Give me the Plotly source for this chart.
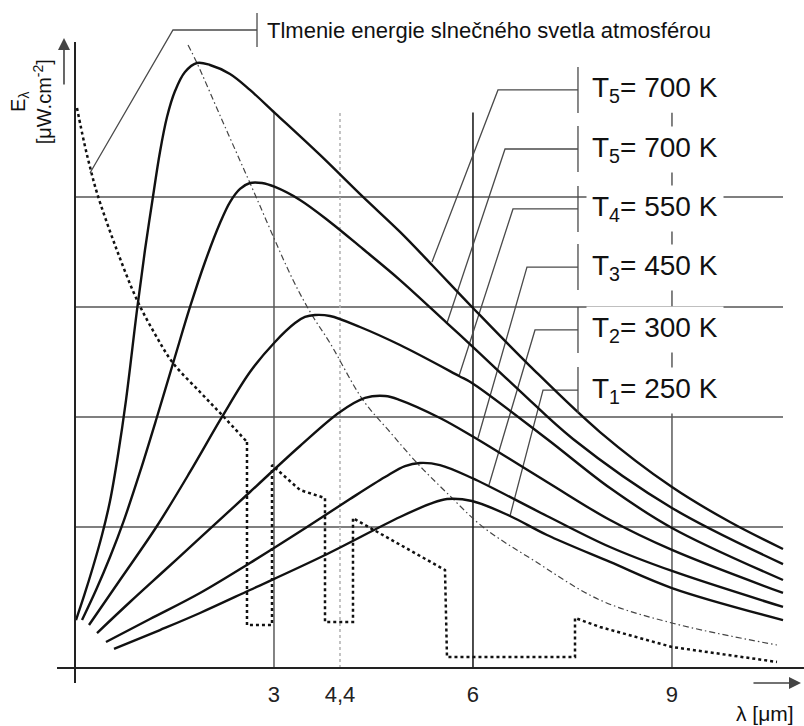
import plotly.graph_objects as go

FONT = "Liberation Sans, Arial, sans-serif"

# ---- data: wavelength λ (μm) and spectral emittance E (arbitrary units) ----
lam_T5a = [0.015, 0.136, 0.271, 0.407, 0.528, 0.648, 0.769, 0.935, 1.055, 1.161, 1.281, 1.387, 1.508,
           1.658, 1.839, 2.035, 2.337, 2.638, 3.015, 3.694, 4.342, 4.900, 5.382, 5.985, 6.860, 7.915,
           9.000, 9.875, 10.674]
E_T5a = [4.36, 6.55, 9.18, 12.09, 15.18, 19.36, 24.36, 32.55, 38.0, 42.27, 46.91, 50.09, 52.45,
         54.18, 55.0, 54.82, 54.0, 52.55, 50.45, 46.64, 42.82, 39.64, 36.64, 32.82, 27.45, 21.45,
         16.45, 13.27, 10.82]

lam_T5b = [0.106, 0.317, 0.528, 0.739, 0.980, 1.236, 1.493, 1.734, 1.960, 2.186, 2.337, 2.488, 2.638,
           2.819, 3.015, 3.392, 3.844, 4.342, 4.900, 5.608, 5.985, 6.709, 7.508, 9.000, 10.674]
E_T5b = [4.36, 7.09, 10.09, 13.45, 17.82, 22.82, 28.0, 32.82, 36.91, 40.45, 42.36, 43.55, 44.09,
         44.09, 43.73, 42.55, 40.55, 38.09, 35.27, 31.36, 29.27, 25.18, 20.82, 14.55, 9.45]

lam_T4 = [0.211, 0.678, 1.236, 1.734, 2.216, 2.638, 3.015, 3.317, 3.467, 3.618, 3.844, 4.297, 4.900,
          5.789, 5.985, 7.116, 8.066, 9.000, 10.674]
E_T4 = [3.91, 8.0, 12.91, 17.82, 22.82, 26.91, 29.64, 31.36, 31.91, 32.09, 32.0, 31.0, 29.36,
        26.55, 25.91, 20.82, 16.36, 12.73, 8.0]

lam_T3 = [0.332, 0.829, 1.357, 1.885, 2.638, 3.392, 3.995, 4.372, 4.674, 4.900, 5.503, 5.985, 7.116,
          8.066, 9.000, 10.674]
E_T3 = [3.18, 6.0, 8.91, 11.82, 16.0, 20.18, 23.27, 24.55, 24.73, 24.36, 22.73, 21.09, 16.91,
        13.45, 10.73, 6.82]

lam_T2 = [0.467, 1.131, 1.885, 2.638, 3.498, 4.146, 4.674, 4.975, 5.201, 5.503, 5.985, 7.116, 8.066,
          9.000, 10.674]
E_T2 = [2.36, 4.45, 6.82, 9.55, 12.82, 15.36, 17.36, 18.36, 18.64, 18.45, 17.27, 13.82, 11.0,
        8.82, 5.55]

lam_T1 = [0.588, 1.281, 1.885, 2.638, 3.739, 4.900, 5.352, 5.608, 5.985, 6.558, 7.116, 8.066, 9.000, 10.674]
E_T1 = [1.73, 3.45, 5.0, 7.09, 10.18, 13.73, 14.91, 15.36, 15.18, 13.82, 12.09, 9.64, 7.27, 4.36]

# locus of the maxima (dash-dot)
lam_max = [1.704, 1.839, 2.216, 2.638, 3.287, 3.573, 3.844, 4.342, 4.749, 5.156, 5.608, 6.151, 6.905,
           7.915, 9.000, 10.583]
E_max = [56.64, 55.0, 49.82, 44.09, 35.27, 32.09, 29.55, 24.36, 21.45, 18.64, 15.91, 12.82, 9.82,
         6.18, 4.09, 2.09]

# attenuation of sunlight by the atmosphere (dotted): smooth part, then absorption bands
lam_atm_smooth = [0.030, 0.136, 0.226, 0.332, 0.603, 0.935, 1.206, 1.477, 1.885, 2.216, 2.593]
E_atm_smooth = [50.91, 47.82, 45.55, 43.18, 38.45, 33.45, 30.36, 27.73, 25.09, 23.0, 20.55]
lam_atm_bands = [2.593, 2.593, 2.970, 2.970, 3.392, 3.769, 3.769, 4.191, 4.191, 4.266, 5.578, 5.608,
                 7.538, 7.538, 7.915, 9.000, 10.583]
E_atm_bands = [20.55, 3.91, 3.91, 18.45, 16.18, 15.45, 4.18, 4.18, 13.64, 13.36, 8.91, 1.0,
               1.0, 4.55, 3.73, 1.91, 0.55]

curves = [(lam_T5a, E_T5a), (lam_T5b, E_T5b), (lam_T4, E_T4),
          (lam_T3, E_T3), (lam_T2, E_T2), (lam_T1, E_T1)]

label_texts = ["T<sub>5</sub>= 700 K", "T<sub>5</sub>= 700 K", "T<sub>4</sub>= 550 K",
               "T<sub>3</sub>= 450 K", "T<sub>2</sub>= 300 K", "T<sub>1</sub>= 250 K"]

tick_pos = [3, 3.995, 6, 9]
tick_text = ["3", "4,4", "6", "9"]

grid_E = [12.82, 22.82, 32.82, 42.82]

title_text = "Tlmenie energie slnečného svetla atmosférou"

# ---- layout geometry (callouts) ----
label_bar_x = 7.583
label_text_x = 7.704
label_y = [52.55, 47.18, 41.73, 36.45, 30.73, 25.27]
leader_end = [(5.382, 36.91), (5.608, 31.36), (5.789, 26.55), (6.076, 20.91), (6.241, 16.64), (6.558, 13.82)]
leader_knee_x = [6.377, 6.483, 6.603, 6.814, 6.935, 7.056]

fig = go.Figure()

LINE = "#4a4a4a"

# horizontal grid lines
for g in grid_E:
    fig.add_shape(type="line", x0=0, x1=10.674, y0=g, y1=g, layer="below",
                  line=dict(color="#555555", width=1.5))
# vertical reference lines
fig.add_shape(type="line", x0=3, x1=3, y0=0, y1=50.5, layer="below", line=dict(color="#5a5a5a", width=1.5))
fig.add_shape(type="line", x0=6, x1=6, y0=0, y1=50.5, layer="below", line=dict(color="#111111", width=1.5))
fig.add_shape(type="line", x0=9, x1=9, y0=0, y1=50.5, layer="below", line=dict(color="#5a5a5a", width=1.5))
fig.add_shape(type="line", x0=3.995, x1=3.995, y0=0, y1=50.5, layer="below",
              line=dict(color="#b0b0b0", width=1.5, dash="dot"))

# axes lines
fig.add_shape(type="line", x0=-0.271, x1=10.99, y0=0, y1=0, line=dict(color="#222222", width=2))
fig.add_shape(type="line", x0=0, x1=0, y0=-1.36, y1=56.91, line=dict(color="#222222", width=2))

# callout leaders for the temperature labels
for (ex, ey), kx, ly in zip(leader_end, leader_knee_x, label_y):
    fig.add_trace(go.Scatter(x=[ex, kx, label_bar_x], y=[ey, ly, ly], mode="lines",
                             line=dict(color=LINE, width=1.3), hoverinfo="skip"))
    fig.add_shape(type="line", x0=label_bar_x, x1=label_bar_x, y0=ly - 2.09, y1=ly + 2.09,
                  line=dict(color=LINE, width=1.3))

# title callout
fig.add_trace(go.Scatter(x=[0.226, 1.477, 2.744], y=[45.0, 58.0, 58.0], mode="lines",
                         line=dict(color=LINE, width=1.3), hoverinfo="skip"))
fig.add_shape(type="line", x0=2.744, x1=2.744, y0=56.45, y1=59.55, line=dict(color=LINE, width=1.3))

# atmosphere attenuation (dotted)
fig.add_trace(go.Scatter(x=lam_atm_smooth, y=E_atm_smooth, mode="lines", line_shape="spline",
                         line=dict(color="#111111", width=2.5, dash="dot", smoothing=1.0), hoverinfo="skip"))
fig.add_trace(go.Scatter(x=lam_atm_bands, y=E_atm_bands, mode="lines",
                         line=dict(color="#111111", width=2.5, dash="dot"), hoverinfo="skip"))
# locus of maxima (dash-dot)
fig.add_trace(go.Scatter(x=lam_max, y=E_max, mode="lines", line_shape="spline",
                         line=dict(color="#444444", width=1.2, dash="6px,3px,1.5px,3px", smoothing=1.0),
                         hoverinfo="skip"))

# radiation curves
for lx, ey in curves:
    fig.add_trace(go.Scatter(x=lx, y=ey, mode="lines", line_shape="spline",
                             line=dict(color="#111111", width=2.4, smoothing=1.0), hoverinfo="skip"))

annotations = []
for txt, ly in zip(label_texts, label_y):
    annotations.append(dict(x=label_text_x, y=ly, xref="x", yref="y", text=txt, showarrow=False,
                            xanchor="left", yanchor="middle", bgcolor="white", borderpad=5,
                            font=dict(family=FONT, size=28, color="#111111")))
annotations.append(dict(x=2.864, y=58.0, xref="x", yref="y", text=title_text, showarrow=False,
                        xanchor="left", yanchor="middle", font=dict(family=FONT, size=22, color="#111111")))
annotations.append(dict(x=-0.66, y=51.45, xref="x", yref="y",
                        text="E<sub>λ</sub><br>[μW.cm<sup>-2</sup>]", textangle=-90, showarrow=False,
                        xanchor="center", yanchor="middle", font=dict(family=FONT, size=20, color="#111111")))
annotations.append(dict(x=9.93, y=-4.18, xref="x", yref="y", text="λ [μm]", showarrow=False,
                        xanchor="left", yanchor="middle", font=dict(family=FONT, size=21, color="#111111")))
# axis arrows
annotations.append(dict(x=-0.166, y=57.27, xref="x", yref="y", ax=0, ay=48, text="", showarrow=True,
                        arrowhead=2, arrowsize=1.5, arrowwidth=1.6, arrowcolor="#444444"))
annotations.append(dict(x=10.945, y=-1.36, xref="x", yref="y", ax=-49, ay=0, text="", showarrow=True,
                        arrowhead=2, arrowsize=1.5, arrowwidth=1.6, arrowcolor="#444444"))

fig.update_layout(
    width=804, height=726,
    margin=dict(l=0, r=0, t=0, b=0, pad=0),
    paper_bgcolor="white", plot_bgcolor="white",
    showlegend=False,
    annotations=annotations,
    xaxis=dict(range=[-1.1307, 10.9905], domain=[0, 1], anchor="free", position=58 / 726,
               showgrid=False, zeroline=False, showline=False, ticks="",
               tickvals=tick_pos, ticktext=tick_text, ticklabelstandoff=11,
               tickfont=dict(family=FONT, size=22, color="#222222"), fixedrange=True),
    yaxis=dict(range=[-5.2727, 60.727], visible=False, fixedrange=True),
)

fig.write_html("out.html")
